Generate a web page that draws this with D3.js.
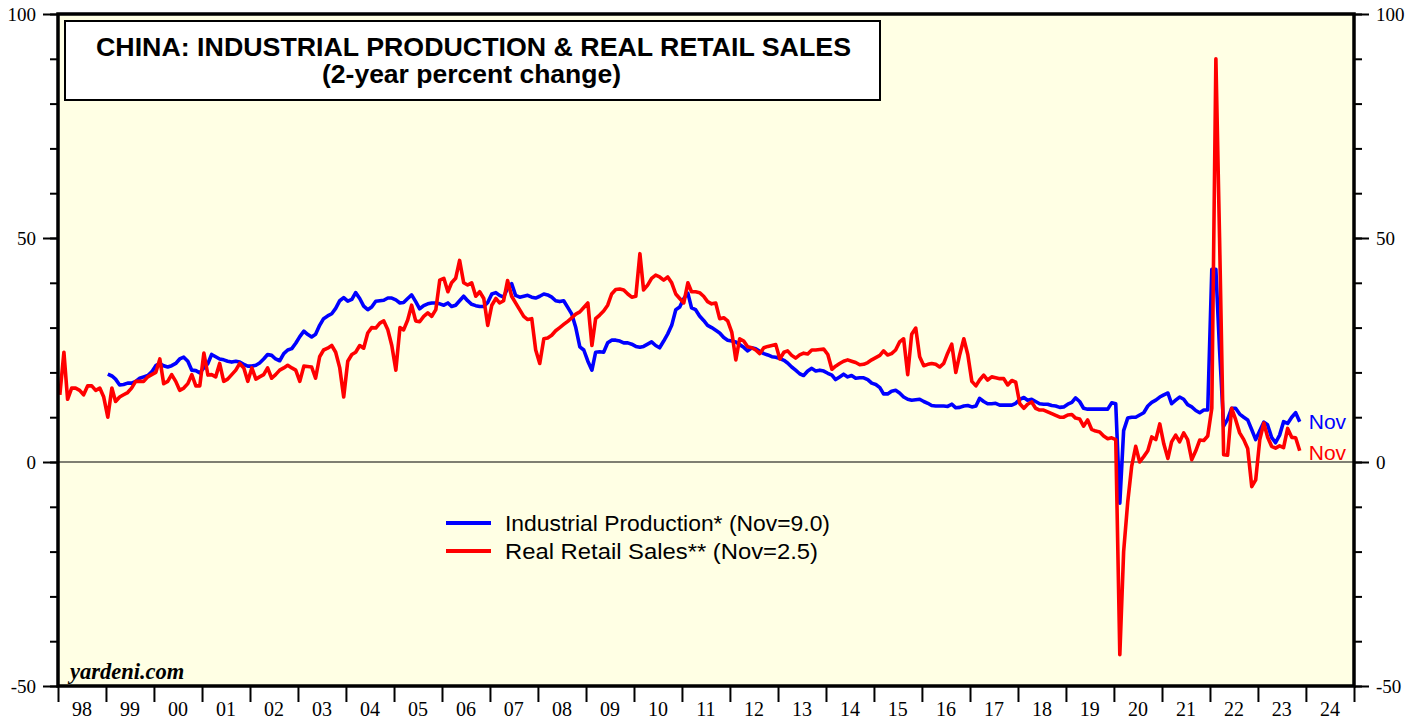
<!DOCTYPE html>
<html>
<head>
<meta charset="utf-8">
<script src="https://cdn.jsdelivr.net/npm/d3@7"></script>
<style>
  body { margin: 0; background: #fff; }
  svg { display: block; }
  .axis text { font-family: "Liberation Serif", "Times New Roman", serif; font-size: 19px; fill: #000; }
  .axis line { stroke: #000; stroke-width: 2px; }
  .xlab text { font-size: 20px; }
  .sans { font-family: "Liberation Sans", Arial, sans-serif; }
</style>
</head>
<body>
<svg width="1424" height="717"></svg>
<script>
// monthly data, 2-year % change
const startYear = 1998;
const yearLabels = ["98","99","00","01","02","03","04","05","06","07","08","09","10",
  "11","12","13","14","15","16","17","18","19","20","21","22","23","24"];
const majorTicks = [-50, 0, 50, 100];
const minorTicks = [-50, -40, -30, -20, -10, 0, 10, 20, 30, 40, 50, 60, 70, 80, 90, 100];

// Real retail sales, from Jan 1998
const retailSales = [
  15, 24.5, 14, 16.5, 16.5, 16, 15, 17, 17, 16,
  16.5, 14.5, 10, 16.5, 13.5, 14.5, 15, 15.5, 16.5, 18,
  18, 18, 19, 19.5, 20, 23, 17.5, 18, 19.5, 18,
  16, 16.5, 17.5, 19.5, 17, 17, 24.3, 19.4, 19.5, 19,
  22, 18, 18.5, 19.5, 20.5, 22, 21, 18, 21, 18.5,
  19, 19.5, 21, 18.7, 19.5, 20.5, 21, 21.6, 21, 20.5,
  18, 21.4, 21.3, 21.2, 18.7, 23.5, 25, 25.4, 26, 24.5,
  21, 14.5, 22.5, 24, 24.5, 26, 25.4, 28.8, 30, 29.9,
  31, 31.5, 29.5, 26, 20.5, 30, 29.5, 31.7, 35, 31.5,
  31.3, 32.5, 33.3, 32.5, 34, 40.6, 41, 38, 40, 41,
  45, 40, 39.5, 40, 37, 38, 36.5, 30.5, 35, 36.5,
  35.5, 36, 40.5, 37, 35.5, 34, 32.5, 31.8, 32, 25,
  22, 27.5, 27.7, 28.3, 29.3, 30, 30.7, 31.4, 32.2, 33,
  33.5, 34.5, 35.5, 26, 32, 32.8, 33.7, 35, 37.5, 38.5,
  38.6, 38.4, 37.5, 36.8, 37, 46.5, 38.4, 39.5, 41, 41.7,
  41.3, 40.6, 41.3, 40, 37.5, 36.5, 35.5, 40, 38, 38,
  37.8, 37, 35.8, 35.3, 35.5, 32, 32.2, 31.5, 29, 22.8,
  27.5, 27, 25.7, 25.5, 25, 24.2, 25.5, 25.8, 26, 26.2,
  23, 24.5, 24.8, 23.8, 23.2, 23.9, 24.3, 24.1, 25, 25,
  25.1, 25.2, 24, 20.7, 21.4, 22, 22.5, 22.8, 22.5, 22.2,
  21.7, 21.8, 22.2, 22.8, 23.3, 23.8, 24.8, 23.9, 24.2, 25,
  26.8, 27.5, 19.5, 28.5, 29.9, 23.5, 21.5, 21.8, 22, 21.8,
  21.2, 22, 24.3, 26.3, 20, 24, 27.5, 24, 18, 17,
  18.3, 19.4, 18.3, 19, 18.8, 18.6, 18.6, 17.2, 18.2, 17.8,
  13, 12, 12.9, 13.4, 12, 11.6, 11.6, 11.2, 10.8, 10.4,
  10, 10, 10.5, 10.6, 9.8, 9.6, 8, 9.4, 7.3, 6.9,
  6.7, 5.8, 5.2, 5.4, 5, -43, -20, -9, -1, 3.5,
  0, 1.2, 2.5, 5.6, 5, 8.5, 4, 0.8, 4.5, 6,
  4.5, 6.5, 5, 0.5, 2.5, 4.9, 4.8, 5.8, 12, 90,
  50, 1.6, 1.5, 12, 9.5, 6.5, 5, 3, -5.5, -4,
  5, 8.7, 5.6, 3.5, 3.1, 3.6, 3.2, 7.5, 5.5, 5.4,
  2.5
];

// Industrial production, from Jan 1999 (month index 12)
const ipStart = 12;
const industrialProduction = [
  19.6, 19.2, 18.5, 17.2, 17.3, 17.6, 17.6, 18, 18.7, 19,
  19.3, 20.1, 21.5, 22, 21.5, 21.2, 21.5, 22, 23, 23.4,
  22.5, 20.5, 20.4, 19.9, 21, 22, 24, 23.5, 23, 22.8,
  22.5, 22.3, 22.5, 22.3, 21.8, 21.4, 21.4, 21.6, 22.1, 23,
  24, 23.8, 23, 22.6, 24.2, 25, 25.3, 26.5, 28, 29.2,
  28.5, 27.9, 28.5, 30.5, 32, 32.6, 33.1, 34.3, 36, 36.7,
  35.9, 36.3, 37.8, 36.5, 34.8, 34, 34.6, 35.9, 36, 36.1,
  36.6, 36.6, 36.2, 35.5, 35.6, 36.5, 37.3, 35.8, 34.2, 34.9,
  35.3, 35.5, 35.5, 35.3, 35, 35.5, 34.7, 35, 36, 37,
  36, 35.2, 34.9, 34.7, 34.7, 35.6, 37.5, 37.8, 37.2, 36.8,
  38.8, 39.8, 37.2, 36.8, 37, 37.2, 36.8, 36.6, 37, 37.5,
  37.3, 36.8, 36, 35.8, 36, 34.5, 33, 30, 25.7, 25,
  22.5, 20.5, 24.5, 24.6, 24.5, 26.6, 27.2, 27.2, 27, 26.6,
  26.6, 26.3, 25.8, 25.6, 25.8, 26.3, 26.8, 26, 25.5, 27,
  28.6, 30.5, 34, 34.6, 36.5, 37.7, 34.4, 34, 32.6, 31.6,
  30.5, 30, 29.4, 28.8, 27.8, 27.2, 27, 26.8, 26.2, 25.6,
  24.8, 25.5, 25.3, 24.7, 24.2, 23.9, 23.5, 23.4, 23.1, 22.7,
  22.1, 21.2, 20.5, 19.7, 19.3, 20.3, 20.9, 20.3, 20.5, 20.3,
  19.8, 19.4, 18.4, 19, 19.6, 19, 19.3, 18.7, 18.8, 18.8,
  18.4, 17.6, 17.3, 16.6, 15.2, 15.2, 15.8, 16, 15.4, 14.5,
  14, 13.8, 13.9, 14, 13.5, 13.1, 12.6, 12.5, 12.5, 12.5,
  12.4, 12.9, 12.1, 12.2, 12.5, 12.6, 12.3, 12.5, 14.2, 13.5,
  13, 13, 13.1, 12.7, 12.7, 12.7, 12.7, 13.1, 14, 14.4,
  13.8, 14, 13.5, 13, 12.9, 12.9, 12.6, 12.5, 12.2, 12.3,
  12.9, 13.3, 14.3, 13.5, 12, 11.8, 11.8, 11.8, 11.8, 11.8,
  11.8, 13.2, 13, -9.2, 7, 9.8, 10, 10, 10.5, 11,
  12.5, 13.3, 13.8, 14.5, 15, 15.4, 13, 13.8, 14.5, 14,
  12.8, 12.3, 11.5, 11, 11.6, 11.6, 43, 43, 25, 8,
  9.5, 12, 12, 10.7, 10, 9.4, 7.2, 5, 7, 8.9,
  8.3, 5.5, 4.3, 6, 9, 8.6, 10, 11, 9
];

const legendLabels = ["Industrial Production* (Nov=9.0)", "Real Retail Sales** (Nov=2.5)"];
const legendWidths = [325, 313];
const seriesColors = ["#0000ff", "#ff0000"];

let svg = d3.select("svg"),
  margin = { top: 14, right: 70, bottom: 31, left: 58 },
  width = +svg.attr("width") - margin.left - margin.right,
  height = +svg.attr("height") - margin.top - margin.bottom;

let g = svg.append("g")
  .attr("transform", "translate(" + margin.left + "," + margin.top + ")");

let x = d3.scaleTime()
  .domain([new Date(startYear, 0, 1), new Date(startYear + yearLabels.length, 0, 1)])
  .range([0, width]);

let y = d3.scaleLinear().domain([-50, 100]).range([height, 0]);

function monthDate(i) {
  return new Date(startYear, i, 15);
}

// plot background
g.append("rect")
  .attr("width", width)
  .attr("height", height)
  .attr("fill", "#ffffe4");

// zero line
g.append("line")
  .attr("x1", 0).attr("x2", width)
  .attr("y1", y(0)).attr("y2", y(0))
  .attr("stroke", "#000")
  .attr("stroke-width", 1.2);

let line = d3.line()
  .x(function(d) { return x(monthDate(d.i)); })
  .y(function(d) { return y(d.v); });

let ipData = industrialProduction.map(function(v, k) { return { i: k + ipStart, v: v }; });
let rsData = retailSales.map(function(v, k) { return { i: k, v: v }; });

[ipData, rsData].forEach(function(data, k) {
  g.append("path")
    .datum(data)
    .attr("fill", "none")
    .attr("stroke", seriesColors[k])
    .attr("stroke-width", 3.6)
    .attr("stroke-linejoin", "round")
    .attr("d", line);
});

// frame
g.append("rect")
  .attr("width", width)
  .attr("height", height)
  .attr("fill", "none")
  .attr("stroke", "#000")
  .attr("stroke-width", 3.5);

// y axes, left and right
function yAxes(axisFn, tx) {
  g.append("g").attr("class", "axis")
    .attr("transform", "translate(" + tx + ",0)")
    .call(axisFn(y).tickValues(minorTicks).tickSize(8).tickFormat(""))
    .call(function(s) { s.select(".domain").remove(); });
  g.append("g").attr("class", "axis")
    .attr("transform", "translate(" + tx + ",0)")
    .call(axisFn(y).tickValues(majorTicks).tickSize(15).tickPadding(7)
      .tickFormat(function(d) { return String(d); }))
    .call(function(s) { s.select(".domain").remove(); });
}
yAxes(d3.axisLeft, 0);
yAxes(d3.axisRight, width);

// x axis: year boundary ticks plus centred labels
let yearStarts = yearLabels.map(function(d, k) { return new Date(startYear + k, 0, 1); });
yearStarts.push(new Date(startYear + yearLabels.length, 0, 1));

g.append("g").attr("class", "axis")
  .attr("transform", "translate(0," + height + ")")
  .call(d3.axisBottom(x).tickValues(yearStarts).tickSize(16).tickFormat(""))
  .call(function(s) { s.select(".domain").remove(); });

g.append("g").attr("class", "axis xlab")
  .selectAll("text")
  .data(yearLabels)
  .enter()
  .append("text")
  .attr("x", function(d, k) { return x(new Date(startYear + k, 6, 2)); })
  .attr("y", height + 30)
  .attr("text-anchor", "middle")
  .text(function(d) { return d; });

// title box
svg.append("rect")
  .attr("x", 65).attr("y", 21)
  .attr("width", 815).attr("height", 79)
  .attr("fill", "#fff")
  .attr("stroke", "#000")
  .attr("stroke-width", 2);

svg.append("text")
  .attr("class", "sans")
  .attr("x", 96).attr("y", 56)
  .attr("font-size", 25).attr("font-weight", "bold")
  .attr("textLength", 755).attr("lengthAdjust", "spacingAndGlyphs")
  .text("CHINA: INDUSTRIAL PRODUCTION & REAL RETAIL SALES");

svg.append("text")
  .attr("class", "sans")
  .attr("x", 322).attr("y", 83)
  .attr("font-size", 25).attr("font-weight", "bold")
  .attr("textLength", 299).attr("lengthAdjust", "spacingAndGlyphs")
  .text("(2-year percent change)");

// legend
legendLabels.forEach(function(label, k) {
  let ly = 523 + k * 28;
  svg.append("line")
    .attr("x1", 446).attr("x2", 491)
    .attr("y1", ly).attr("y2", ly)
    .attr("stroke", seriesColors[k])
    .attr("stroke-width", 4);
  svg.append("text")
    .attr("class", "sans")
    .attr("x", 505).attr("y", ly + 8)
    .attr("font-size", 22.5)
    .attr("textLength", legendWidths[k]).attr("lengthAdjust", "spacingAndGlyphs")
    .attr("fill", "#000")
    .text(label);
});

// end-of-line labels
let lastIp = ipData[ipData.length - 1];
let lastRs = rsData[rsData.length - 1];
[[lastIp, 0, 7], [lastRs, 1, 9]].forEach(function(p) {
  g.append("text")
    .attr("class", "sans")
    .attr("x", x(monthDate(p[0].i)) + 9)
    .attr("y", y(p[0].v) + p[2])
    .attr("font-size", 21)
    .attr("fill", seriesColors[p[1]])
    .text("Nov");
});

svg.append("text")
  .attr("x", 70).attr("y", 679)
  .attr("font-family", "'Liberation Serif', 'Times New Roman', serif")
  .attr("font-size", 22.5)
  .attr("font-weight", "bold")
  .attr("font-style", "italic")
  .text("yardeni.com");
</script>
</body>
</html>
